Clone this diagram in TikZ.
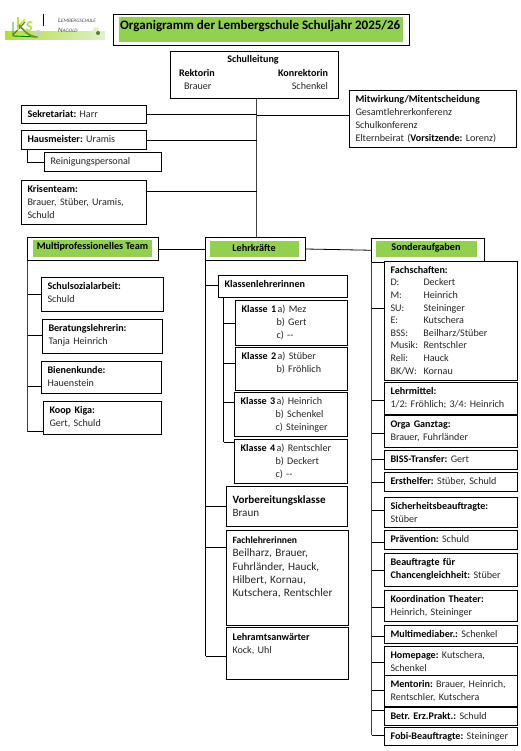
\documentclass[tikz,border=0pt]{standalone}
\usepackage{fontspec}
\setmainfont{Carlito}
\usetikzlibrary{calc}
\definecolor{lsgreen}{HTML}{92D050}
\definecolor{ink}{HTML}{262626}
\tikzset{
 x=1pt,y=-1pt,
 boxed/.style={draw=black,line width=0.8pt,fill=white,inner sep=0pt,outer sep=0pt},
 txt/.style={inner sep=0pt,outer sep=0pt,align=left,anchor=north west,text=ink,font=\fontsize{10.1}{13}\selectfont\frenchspacing},
 para/.style={txt,text width=125pt},
 wire/.style={draw=black,line width=0.8pt},
 trunk/.style={draw=black!75,line width=0.9pt},
 headlabel/.style={inner sep=0pt,font=\bfseries\fontsize{10.2}{12}\selectfont,text=black},
 logotext/.style={inner sep=0pt,anchor=west,font=\itshape\fontsize{7}{8}\selectfont,text=black!70},
}
% [font], name, x1,y1,x2,y2, text
\newcommand{\bx}[7][]{%
 \pgfmathsetmacro{\bw}{#5-#3}\pgfmathsetmacro{\bh}{#6-#4}%
 \node[boxed,minimum width=\bw pt,minimum height=\bh pt,anchor=north west] (#2) at (#3,#4) {};%
 \node[para] (#2-t) at ($(#2.north west)+(6,3)$) {#1\strut #7};}
\newcommand{\hd}[1]{\textcolor{black}{\textbf{#1}}}
\newcommand{\kl}[1]{\makebox[36pt][l]{\hd{#1}}}
\newcommand{\kk}{\hspace*{35pt}}
\newcommand{\fs}[2]{\makebox[33pt][l]{#1}#2}
\newcommand{\lsc}[2]{#1{\fontsize{5.2}{8}\selectfont #2}}
\begin{document}
\begin{tikzpicture}
\useasboundingbox (0,0) rectangle (521,751);
\fill[white] (0,0) rectangle (521,751);
% logo
\shade[left color=lsgreen!70!yellow,right color=lsgreen!30] (5,32) rectangle (105,39.5);
\fill[lsgreen!30] (96,30) circle (3);
\fill[black!40!lsgreen] (98,33) circle (2);
\draw[line width=0.9pt,black!50!green] (13,22) -- (13,36) -- (38,37);
\draw[line width=1.2pt,lsgreen!60!black] (13,35) -- (25,22);
\draw[line width=1.4pt,lsgreen!60!yellow] (18,17) -- (18,30);
\draw[line width=1.4pt,lsgreen!60!yellow] (18,27) -- (25,19);
\draw[line width=1.8pt,lsgreen!70!black] (19,25) .. controls (24,31) and (29,36) .. (35,37);
\node[inner sep=0pt,font=\itshape\bfseries\fontsize{15}{15}\selectfont,text=lsgreen!70!yellow] (logoS) at (29,27) {S};
\fill[black!20] (38,33) circle (3);
\draw[black,line width=0.9pt] (43.5,14) -- (43.5,26);
\node[logotext] (logoA) at (58,20) {\lsc{L}{EMBERGSCHULE}};
\node[logotext] (logoB) at (58,30) {\lsc{N}{AGOLD}};
% title
\node[boxed,minimum width=296pt,minimum height=31pt,anchor=north west] (title) at (113.5,14.5) {};
\fill[lsgreen] (119,17) rectangle (403,42);
\node[inner sep=0pt,anchor=west,font=\bfseries\fontsize{13}{15}\selectfont,text=black] (titlet) at (120,26) {Organigramm der Lembergschule Schuljahr 2025/26};
% trunk lines and connectors underneath the boxes
\coordinate (mainT) at (256.7,98);
\coordinate (mainB) at (256.7,237);
\draw[trunk] (mainT) -- (mainB);
% top boxes
\node[boxed,minimum width=168pt,minimum height=47pt,anchor=north west] (sl) at (170.5,51.5) {};
\node[txt,anchor=center] (slh) at (253,60) {\hd{Schulleitung}};
\node[txt,anchor=west] (slr) at (179,73) {\hd{Rektorin}};
\node[txt,anchor=west] (slb) at (184,86) {Brauer};
\node[txt,anchor=east] (slk) at (328,73) {\hd{Konrektorin}};
\node[txt,anchor=east] (sls) at (328,86) {Schenkel};
\bx{sek}{21.5}{105.5}{146.5}{123.5}{\hd{Sekretariat:} Harr}
\bx{haus}{21.5}{130.5}{146.5}{149.5}{\hd{Hausmeister:} Uramis}
\bx{rein}{44.5}{152.5}{161.5}{171.5}{Reinigungspersonal}
\bx{kris}{21.5}{180.5}{146.5}{224.5}{\hd{Krisenteam:}\\Brauer, Stüber, Uramis,\\Schuld}
\bx{mit}{349.5}{90.5}{516.5}{147.5}{\hd{Mitwirkung/Mitentscheidung}\\Gesamtlehrerkonferenz\\Schulkonferenz\\\mbox{Elternbeirat (\hd{Vorsitzende:} Lorenz)}}
\draw[wire] (sek.east) -- (sek.east -| mainT);
\draw[wire] (haus.east) -- (haus.east -| mainT);
\draw[wire] (kris.east |- 0,191.5) -- (256.7,191.5);
\draw[wire] (mit.west |- 0,115.5) -- (256.7,115.5);
\draw[wire] (27.7,149.5) |- (rein.west);
% team headers
\node[boxed,minimum width=131pt,minimum height=23pt,anchor=north west] (mp) at (27.5,237.5) {};
\fill[lsgreen] (33,240) rectangle (152,257);
\node[headlabel] (mpt) at (92.5,247) {Multiprofessionelles Team};
\node[boxed,minimum width=100pt,minimum height=23pt,anchor=north west] (lk) at (205.5,237.5) {};
\fill[lsgreen] (210,241) rectangle (299,257);
\node[headlabel] (lkt) at (254,248) {Lehrkräfte};
\node[boxed,minimum width=113pt,minimum height=23.5pt,anchor=north west] (so) at (371.5,238.5) {};
\fill[lsgreen] (376,241) rectangle (477,257);
\node[headlabel] (sot) at (426,248) {Sonderaufgaben};
\draw[wire] (mp.east) -- (lk.west);
\draw[wire] (lk.east) -- (so.west);
% multiprofessional
\bx{m1}{41.5}{277.5}{163.5}{311.5}{\hd{Schulsozialarbeit:}\\Schuld}
\bx{m2}{42.5}{319.5}{162.5}{353.5}{\hd{Beratungslehrerin:}\\Tanja Heinrich}
\bx{m3}{41.5}{361.5}{161.5}{393.5}{\hd{Bienenkunde:}\\Hauenstein}
\bx{m4}{43.5}{401.5}{161.5}{434.5}{\hd{Koop Kiga:}\\Gert, Schuld}
\coordinate (mpb) at (27.7,431.5);
\draw[trunk] (27.7,260.5) -- (mpb);
\draw[wire] (27.7,294) -- (m1.west |- 0,294);
\draw[wire] (27.7,335) -- (m2.west |- 0,335);
\draw[wire] (27.7,386) -- (m3.west |- 0,386);
\draw[wire] (mpb) -- (m4.west |- mpb);
% teachers
\bx{kl}{218.5}{275.5}{347.5}{297.5}{\hd{Klassenlehrerinnen}}
\bx{k1}{235.5}{300.5}{347.5}{345.5}{\kl{Klasse 1}a) Mez\\\kk b) Gert\\\kk c) -{}-}
\bx{k2}{235.5}{347.5}{347.5}{390.5}{\kl{Klasse 2}a) Stüber\\\kk b) Fröhlich}
\bx{k3}{234.5}{392.5}{347.5}{436.5}{\kl{Klasse 3}a) Heinrich\\\kk b) Schenkel\\\kk c) Steininger}
\bx{k4}{234.5}{439.5}{347.5}{483.5}{\kl{Klasse 4}a) Rentschler\\\kk b) Deckert\\\kk c) -{}-}
\bx[\fontsize{11.1}{13.5}\selectfont]{vk}{226.5}{486.5}{347.5}{526.5}{\rule{0pt}{13.5pt}\hd{Vorbereitungsklasse}\\Braun}
\bx[\fontsize{11.3}{13.6}\selectfont]{fl}{226.5}{530.5}{348.5}{625.5}{{\fontsize{9.6}{13.6}\selectfont\hd{Fachlehrerinnen}}\\Beilharz, Brauer,\\Fuhrländer, Hauck,\\Hilbert, Kornau,\\Kutschera, Rentschler}
\bx{la}{226.5}{627.5}{348.5}{679.5}{\rule{0pt}{10pt}\hd{Lehramtsanwärter}\\Kock, Uhl}
\coordinate (lkb) at (205.5,656);
\draw[wire] (205.5,260.5) -- (lkb);
\draw[wire] (205.5,285) -- (kl.west |- 0,285);
\draw[wire] (205.5,506) -- (vk.west |- 0,506);
\draw[wire] (205.5,547) -- (fl.west |- 0,547);
\draw[wire] (lkb) -- (la.west |- lkb);
\coordinate (klb) at (223.5,442);
\draw[wire] (223.5,297.5) -- (klb);
\draw[wire] (223.5,323.5) -- (k1.west |- 0,323.5);
\draw[wire] (223.5,363) -- (k2.west |- 0,363);
\draw[wire] (223.5,402) -- (k3.west |- 0,402);
\draw[wire] (klb) -- (k4.west |- klb);
% special tasks
\coordinate (sob) at (371.5,735);
\draw[trunk] (371.5,262) -- (sob);
\foreach \yy in {308,400,433,459,482,510,542,570,607,636,662,690,710} \draw[wire] (371.5,\yy) -- (385,\yy);
\draw[wire] (sob) -- (385,735);
\bx[\fontsize{10.1}{12.6}\selectfont]{s1}{384.5}{261.5}{517.5}{380.5}{\hd{Fachschaften:}\\\fs{D:}{Deckert}\\\fs{M:}{Heinrich}\\\fs{SU:}{Steininger}\\\fs{E:}{Kutschera}\\\fs{BSS:}{Beilharz/Stüber}\\\fs{Musik:}{Rentschler}\\\fs{Reli:}{Hauck}\\\fs{BK/W:}{Kornau}}
\bx{s2}{384.5}{382.5}{517.5}{414.5}{\hd{Lehrmittel:}\\1/2: Fröhlich; 3/4: Heinrich}
\bx{s3}{384.5}{415.5}{517.5}{447.5}{\hd{Orga Ganztag:}\\Brauer, Fuhrländer}
\bx{s4}{384.5}{450.5}{517.5}{469.5}{\hd{BISS-Transfer:} Gert}
\bx{s5}{384.5}{472.5}{517.5}{491.5}{\hd{Ersthelfer:} Stüber, Schuld}
\bx{s6}{384.5}{497.5}{517.5}{527.5}{\hd{Sicherheitsbeauftragte:}\\Stüber}
\bx{s7}{384.5}{530.5}{517.5}{549.5}{\hd{Prävention:} Schuld}
\bx{s8}{384.5}{553.5}{517.5}{586.5}{\hd{Beauftragte für}\\\hd{Chancengleichheit:} Stüber}
\bx{s9}{384.5}{590.5}{517.5}{621.5}{\hd{Koordination Theater:}\\Heinrich, Steininger}
\bx{s10}{384.5}{625.5}{517.5}{643.5}{\hd{Multimediaber.:} Schenkel}
\bx{s11}{384.5}{646.5}{517.5}{675.5}{\hd{Homepage:} Kutschera,\\Schenkel}
\bx{s12}{384.5}{675.5}{517.5}{706.5}{\hd{Mentorin:} Brauer, Heinrich,\\Rentschler, Kutschera}
\bx{s13}{384.5}{707.5}{517.5}{725.5}{\hd{Betr. Erz.Prakt.:} Schuld}
\bx{s14}{384.5}{727.5}{517.5}{745.5}{\hd{Fobi-Beauftragte:} Steininger}
\end{tikzpicture}
\end{document}
